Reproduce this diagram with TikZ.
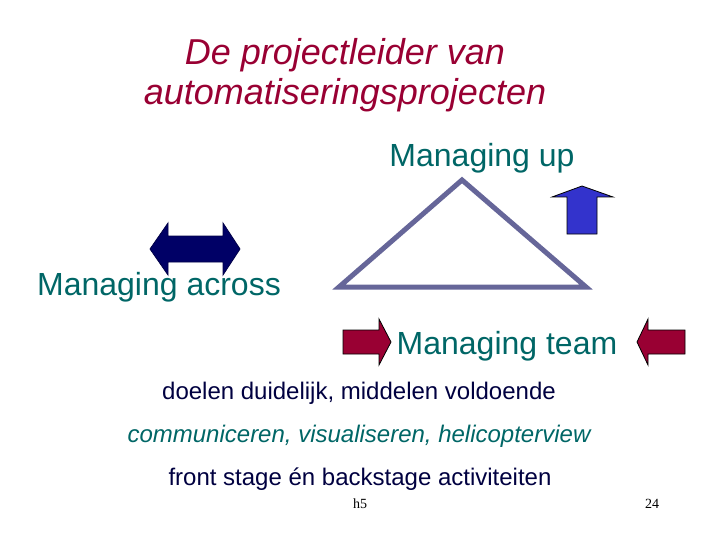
\documentclass[tikz,border=0pt]{standalone}
\usepackage{fontspec}
\setmainfont{Liberation Sans}
\newfontfamily\serifnum{Liberation Serif}
\definecolor{titlered}{HTML}{990033}
\definecolor{tealtxt}{HTML}{006666}
\definecolor{darktxt}{HTML}{000040}
\definecolor{navyarrow}{HTML}{000066}
\definecolor{bluearrow}{HTML}{3333CC}
\definecolor{triline}{HTML}{666699}
\definecolor{redarrow}{HTML}{990033}
\tikzset{
  titletxt/.style={anchor=base, inner sep=0pt, text=titlered, font=\fontsize{36}{40}\selectfont\itshape},
  bigtxt/.style={anchor=base, inner sep=0pt, text=tealtxt, font=\fontsize{32}{36}\selectfont},
  bodytxt/.style={anchor=base, inner sep=0pt, text=darktxt, font=\fontsize{24}{28}\selectfont},
  bodyital/.style={anchor=base, inner sep=0pt, text=tealtxt, font=\fontsize{24}{28}\selectfont\itshape},
  foottxt/.style={anchor=base, inner sep=0pt, text=black, font=\serifnum\fontsize{14}{16}\selectfont},
  arrowshape/.style={draw=black, line width=0.8pt, line join=miter},
}
\begin{document}
\begin{tikzpicture}[x=1pt,y=-1pt]
\useasboundingbox (0,0) rectangle (720,540);
% title
\node[titletxt] (t1) at (345,65) {De projectleider van};
\node[titletxt] (t2) at (345,105) {automatiseringsprojecten};
% triangle
\draw[triline, line width=5pt, line join=miter] (462,180) -- (339,287) -- (586,287) -- cycle;
% managing up
\node[bigtxt] (up) at (482,167) {Managing up};
\draw[arrowshape, fill=bluearrow] (582,186) -- (613,197) -- (597,197) -- (597,234) -- (567,234) -- (567,197) -- (552,197) -- cycle;
% double arrow
\draw[fill=navyarrow, draw=navyarrow!70!black, line width=0.8pt]
  (150,249) -- (168,223) -- (168,236) -- (223,236) -- (223,223) -- (240,249)
  -- (223,275) -- (223,262) -- (168,262) -- (168,275) -- cycle;
\node[bigtxt] (across) at (159,295) {Managing across};
% managing team
\draw[arrowshape, fill=redarrow] (343,330) -- (379,330) -- (379,319) -- (391,342) -- (379,365) -- (379,354) -- (343,354) -- cycle;
\draw[arrowshape, fill=redarrow] (685,330) -- (648,330) -- (648,319) -- (637,342) -- (648,365) -- (648,354) -- (685,354) -- cycle;
\node[bigtxt] (team) at (507,354) {Managing team};
% body lines
\node[bodytxt] (l1) at (359,399) {doelen duidelijk, middelen voldoende};
\node[bodyital] (l2) at (359,442) {communiceren, visualiseren, helicopterview};
\node[bodytxt] (l3) at (360,485) {front stage én backstage activiteiten};
% footer
\node[foottxt] (h5) at (360,508) {h5};
\node[foottxt] (pg) at (652,508) {24};
\end{tikzpicture}
\end{document}
